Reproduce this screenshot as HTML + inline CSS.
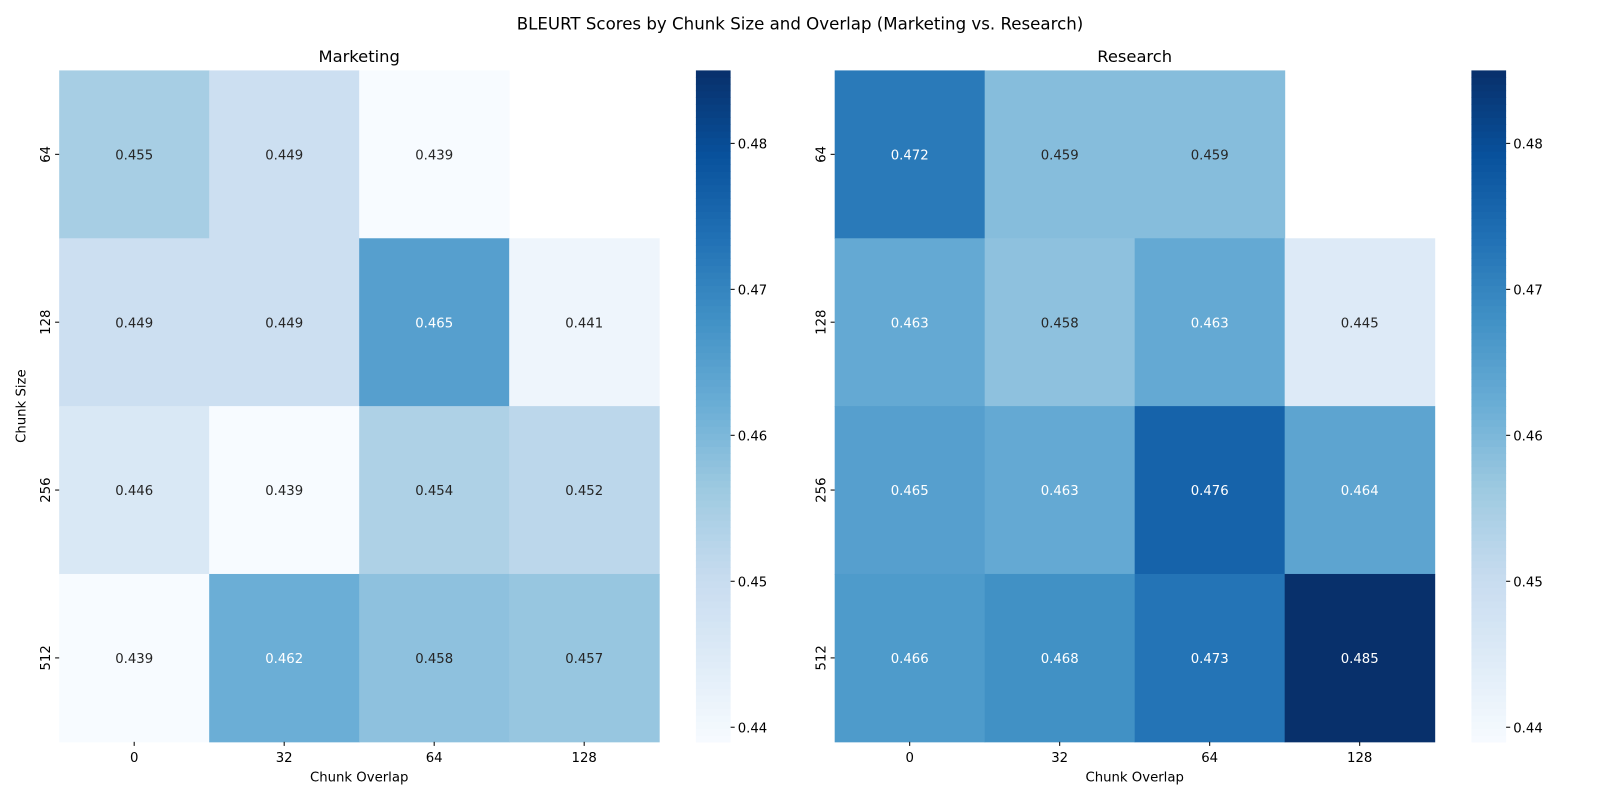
<!DOCTYPE html>
<html><head><meta charset="utf-8"><style>
body{margin:0;background:#fff;font-family:"Liberation Sans","DejaVu Sans",sans-serif;}
svg text{font-family:"DejaVu Sans","Liberation Sans",sans-serif;}
</style></head><body>
<svg width="1600" height="800" xmlns="http://www.w3.org/2000/svg">
<g id="fig" transform="scale(1.0204)">
<text x="784" y="29" font-size="16.3" text-anchor="middle" fill="#000">BLEURT Scores by Chunk Size and Overlap (Marketing vs. Research)</text>
</g>
</svg>
<script>
const chunkSizes = ["64","128","256","512"];
const chunkOverlaps = ["0","32","64","128"];
const marketingValues = [[0.455,0.449,0.439,null],[0.449,0.449,0.465,0.441],[0.446,0.439,0.454,0.452],[0.439,0.462,0.458,0.457]];
const researchValues = [[0.472,0.459,0.459,null],[0.463,0.458,0.463,0.445],[0.465,0.463,0.476,0.464],[0.466,0.468,0.473,0.485]];
const cbTicks = [0.44,0.45,0.46,0.47,0.48];
const vmin = 0.439, vmax = 0.485;

const NS="http://www.w3.org/2000/svg";
const svg=document.getElementById('fig');
const stops=[[247,251,255],[222,235,247],[198,219,239],[158,202,225],[107,174,214],[66,146,198],[33,113,181],[8,81,156],[8,48,107]];
function cmap(v){let t=Math.max(0,Math.min(1,(v-vmin)/(vmax-vmin)))*8;let i=Math.min(7,Math.floor(t));let f=t-i;
 return stops[i].map((c,k)=>Math.round(c+(stops[i+1][k]-c)*f));}
function lum(c){const l=c.map(x=>{x/=255;return x<=0.03928?x/12.92:Math.pow((x+0.055)/1.055,2.4)});return 0.2126*l[0]+0.7152*l[1]+0.0722*l[2];}
function mk(tag,attrs,parent){const e=document.createElementNS(NS,tag);for(const k in attrs)e.setAttribute(k,attrs[k]);(parent||svg).appendChild(e);return e;}
const topY=69,bottomY=727,H=bottomY-topY;
function yv(v){return bottomY-(v-vmin)/(vmax-vmin)*H;}

function panel(name,title,vals,x0,cbx,showY){
 const g=mk('g',{});
 
 
 const W=588,cw=W/chunkOverlaps.length,ch=H/chunkSizes.length;
 chunkSizes.forEach((s,r)=>{chunkOverlaps.forEach((o,c)=>{const v=vals[r][c];if(v===null)return;
  const col=cmap(v);
  const rc=mk('rect',{x:x0+c*cw,y:topY+r*ch,width:cw+0.5,height:ch+0.5,fill:`rgb(${col})`},g);
  
  
  const t=mk('text',{x:x0+c*cw+cw/2,y:topY+r*ch+ch/2+5,'font-size':13,'text-anchor':'middle',fill:lum(col)>0.408?'#262626':'#fff'},g);
  t.textContent=v.toFixed(3);
  
  
 });});
 const tt=mk('text',{x:x0+W/2,y:61,'font-size':16,'text-anchor':'middle'},g);tt.textContent=title;
 
 
 chunkOverlaps.forEach((o,c)=>{const x=x0+c*cw+cw/2;mk('line',{x1:x,x2:x,y1:bottomY,y2:bottomY+4,stroke:'#000'},g);
  const t=mk('text',{x:x,y:bottomY+20,'font-size':13,'text-anchor':'middle'},g);t.textContent=o;
  
  });
 chunkSizes.forEach((s,r)=>{const y=topY+r*ch+ch/2;mk('line',{x1:x0-4,x2:x0,y1:y,y2:y,stroke:'#000'},g);
  const t=mk('text',{x:0,y:0,'font-size':13,'text-anchor':'middle',transform:`translate(${x0-9},${y}) rotate(-90)`},g);t.textContent=s;
  
  });
 const xl=mk('text',{x:x0+W/2,y:bottomY+39,'font-size':13,'text-anchor':'middle'},g);xl.textContent='Chunk Overlap';
 
 
 if(showY){const yl=mk('text',{x:0,y:0,'font-size':13,'text-anchor':'middle',transform:`translate(${x0-33},${(topY+bottomY)/2}) rotate(-90)`},g);yl.textContent='Chunk Size';
  
  }
 const cb=mk('g',{},g);
 
 
 const n=100;for(let i=0;i<n;i++){const v=vmin+(vmax-vmin)*(i+0.5)/n;const col=cmap(v);
  mk('rect',{x:cbx,y:bottomY-(i+1)*H/n,width:34,height:H/n+0.6,fill:`rgb(${col})`},cb);}
 cbTicks.forEach(v=>{const y=yv(v);mk('line',{x1:cbx+34,x2:cbx+38,y1:y,y2:y,stroke:'#000'},cb);
  const t=mk('text',{x:cbx+41,y:y+5,'font-size':13},cb);t.textContent=v.toFixed(2);
  
  });
}
panel('marketing','Marketing',marketingValues,58,682,true);
panel('research','Research',researchValues,818,1442,false);
</script>
</body></html>
